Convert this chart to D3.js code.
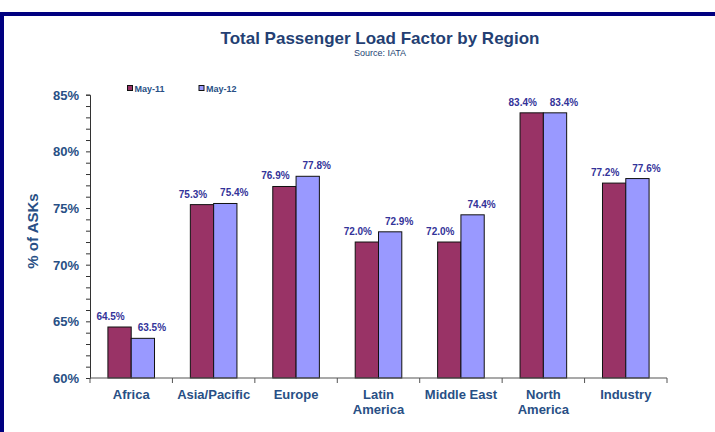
<!DOCTYPE html>
<html><head><meta charset="utf-8">
<script src="https://cdn.jsdelivr.net/npm/d3@7"></script>
<style>html,body{margin:0;padding:0;background:#fff;}svg{display:block;}</style>
</head><body>
<svg id="c" width="715" height="432"></svg>
<script>
const categories = [["Africa"],["Asia/Pacific"],["Europe"],["Latin","America"],["Middle East"],["North","America"],["Industry"]];
const seriesNames = ["May-11","May-12"];
const may11 = [64.5, 75.3, 76.9, 72.0, 72.0, 83.4, 77.2];
const may12 = [63.5, 75.4, 77.8, 72.9, 74.4, 83.4, 77.6];
const yTicks = [60, 65, 70, 75, 80, 85];
const colors = ["#993366", "#9999FF"];

(function(){
const svg = d3.select("#c");
const textBlue = "#284F85";
// border
svg.append("rect").attr("x",0).attr("y",12).attr("width",715).attr("height",4).attr("fill","#000080");
svg.append("rect").attr("x",0).attr("y",12).attr("width",4).attr("height",420).attr("fill","#000080");

const pLeft = 90, pRight = 667, pTop = 94.7, pBottom = 378;
const x = d3.scaleBand().domain(d3.range(categories.length)).range([pLeft, pRight]).paddingInner(0).paddingOuter(0);
const bw = 23.3;
const xs = d3.scaleBand().domain([0,1]).range([-bw, bw]);
const y = d3.scaleLinear().domain([60, 85]).range([pBottom, pTop]);

// title
svg.append("text").attr("x",380).attr("y",44).attr("text-anchor","middle")
  .attr("font-family","Liberation Sans, Arial, sans-serif").attr("font-weight","bold").attr("font-size",17)
  .attr("fill","#243F73").text("Total Passenger Load Factor by Region");
svg.append("text").attr("x",380).attr("y",56).attr("text-anchor","middle")
  .attr("font-family","Liberation Sans Narrow, Arial Narrow, Liberation Sans, sans-serif").attr("font-size",9)
  .attr("fill","#243F73").text("Source: IATA");

// bars
const data = [may11, may12];
data.forEach((vals, si) => {
  const g = svg.append("g");
  g.selectAll("rect").data(vals).join("rect")
    .attr("x",(d,i)=>x(i)+x.bandwidth()/2+xs(si))
    .attr("y",d=>y(d)).attr("width",xs.bandwidth()).attr("height",d=>pBottom-y(d))
    .attr("fill",colors[si]).attr("stroke","#111").attr("stroke-width",1);
  g.selectAll("text").data(vals).join("text")
    .attr("x",(d,i)=>x(i)+x.bandwidth()/2+xs(si)+xs.bandwidth()/2+(si===0?-9:9))
    .attr("y",d=>y(d)-7).attr("text-anchor","middle")
    .attr("font-family","Liberation Sans, Arial, sans-serif").attr("font-weight","bold").attr("font-size",10)
    .attr("fill","#333399").text(d=>d.toFixed(1)+"%");
});

// y axis
const yAxis = d3.axisLeft(y).tickValues(d3.range(60,86,1)).tickSize(4).tickFormat(d=>yTicks.includes(d)?d+"%":"");
const ya = svg.append("g").attr("transform",`translate(${pLeft},0)`).call(yAxis);
ya.select(".domain").attr("stroke","#333");
ya.selectAll(".tick line").attr("stroke","#333");
ya.selectAll(".tick text").attr("font-family","Liberation Sans, Arial, sans-serif").attr("font-weight","bold")
  .attr("font-size",13).attr("fill",textBlue).attr("x",-11).attr("dy","0.35em");

// x axis
const xa = svg.append("g").attr("transform",`translate(0,${pBottom})`);
xa.append("line").attr("x1",pLeft).attr("x2",pRight).attr("stroke","#555").attr("stroke-width",1.2);
const bounds = d3.range(categories.length+1).map(i=> i<categories.length ? x(i) : pRight);
xa.selectAll("line.t").data(bounds).join("line").attr("class","t")
  .attr("x1",d=>d).attr("x2",d=>d).attr("y1",0).attr("y2",5).attr("stroke","#555");
categories.forEach((lines,i)=>{
  const t = xa.append("text").attr("text-anchor","middle")
    .attr("font-family","Liberation Sans, Arial, sans-serif").attr("font-weight","bold").attr("font-size",13)
    .attr("fill",textBlue);
  lines.forEach((l,j)=>t.append("tspan").attr("x",x(i)+x.bandwidth()/2).attr("y",21+j*14.5).text(l));
});

// y title
svg.append("text").attr("transform","translate(38,231) rotate(-90)").attr("text-anchor","middle")
  .attr("font-family","Liberation Sans, Arial, sans-serif").attr("font-weight","bold").attr("font-size",15)
  .attr("fill",textBlue).text("% of ASKs");

// legend
const legX = [127.5, 199];
seriesNames.forEach((n,i)=>{
  svg.append("rect").attr("x",legX[i]).attr("y",85.5).attr("width",5).attr("height",5)
    .attr("fill",colors[i]).attr("stroke","#111").attr("stroke-width",1);
  svg.append("text").attr("x",legX[i]+7).attr("y",91.5)
    .attr("font-family","Liberation Sans, Arial, sans-serif").attr("font-weight","bold").attr("font-size",9)
    .attr("fill",textBlue).text(n);
});
})();
</script>
</body></html>
